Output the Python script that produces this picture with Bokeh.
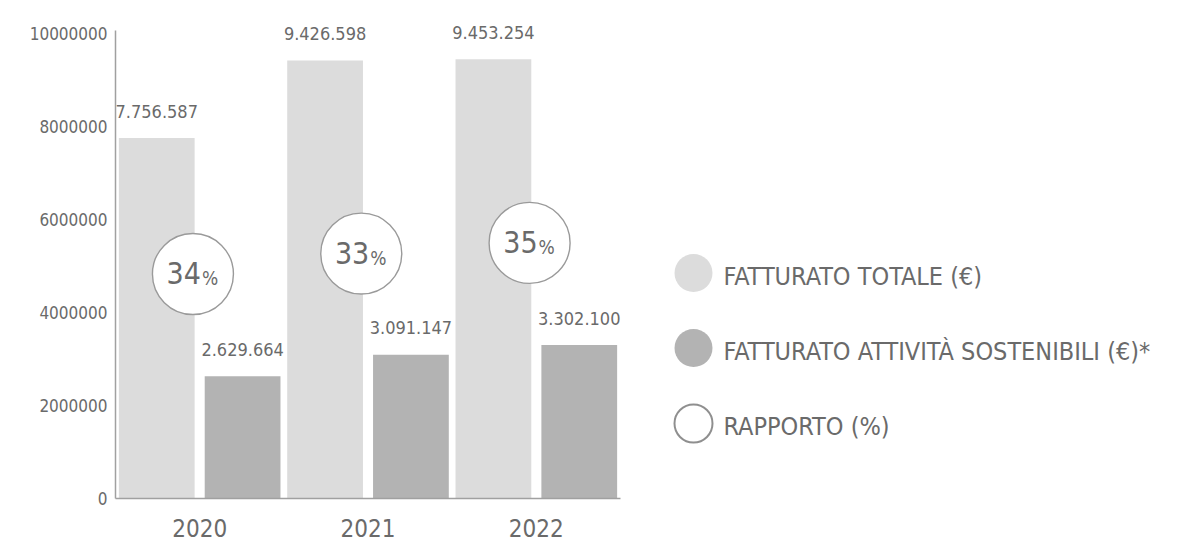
from bokeh.plotting import figure
from bokeh.layouts import row
from bokeh.models import ColumnDataSource, FactorRange, Range1d, FixedTicker, NumeralTickFormatter
from bokeh.transform import dodge
from bokeh.core.properties import value
from bokeh.embed import file_html
from bokeh.resources import INLINE

years = ["2020", "2021", "2022"]
totale = [7756587, 9426598, 9453254]
sostenibili = [2629664, 3091147, 3302100]
rapporto = [34, 33, 35]
rapporto_y = [4830000, 5270000, 5500000]   # vertical placement of ratio bubbles
y_ticks = [0, 2000000, 4000000, 6000000, 8000000, 10000000]

legend_labels = ["FATTURATO TOTALE (€)", "FATTURATO ATTIVITÀ SOSTENIBILI (€)*", "RAPPORTO (%)"]

LIGHT = "#dcdcdc"
DARK = "#b3b3b3"
TXT = "#6a6a6a"
AX = "#a0a0a0"
FONT = "DejaVu Sans Condensed, Roboto, sans-serif"

def fmt(v):
    return f"{v:,}".replace(",", ".")

src = ColumnDataSource(dict(
    year=years,
    tot=totale,
    sos=sostenibili,
    tot_lbl=[fmt(v) for v in totale],
    sos_lbl=[fmt(v) for v in sostenibili],
    rap=[str(v) for v in rapporto],
    pct=["%"] * len(years),
    rap_y=rapporto_y,
))

TOP, BOTTOM = 5, 46
H = 544
AXIS_TOP = 10070000
p = figure(x_range=FactorRange(*years, range_padding=0), y_range=Range1d(0, 10608000),
           width=650, height=H, output_backend="svg", toolbar_location=None,
           min_border_left=115, min_border_top=TOP, min_border_bottom=BOTTOM, min_border_right=30)
p.outline_line_color = None
p.xgrid.visible = False
p.ygrid.visible = False
p.background_fill_color = "white"
p.border_fill_color = "white"

p.vbar(x=dodge("year", -0.255, range=p.x_range), top="tot", width=0.45, source=src,
       fill_color=LIGHT, line_color=None)
p.vbar(x=dodge("year", 0.255, range=p.x_range), top="sos", width=0.45, source=src,
       fill_color=DARK, line_color=None)

p.text(x=dodge("year", -0.255, range=p.x_range), y="tot", text="tot_lbl", source=src,
       text_align="center", text_baseline="alphabetic", y_offset=-27,
       text_font=value(FONT), text_font_size="18px", text_color=TXT)
p.text(x=dodge("year", 0.255, range=p.x_range), y="sos", text="sos_lbl", source=src,
       text_align="center", text_baseline="alphabetic", y_offset=-27,
       text_font=value(FONT), text_font_size="18px", text_color=TXT)

p.scatter(x=dodge("year", -0.04, range=p.x_range), y="rap_y", source=src, marker="circle",
          size=81, fill_color="white", line_color="#9a9a9a", line_width=1.4)
p.text(x=dodge("year", -0.04, range=p.x_range), y="rap_y", text="rap", source=src,
       text_align="right", text_baseline="alphabetic", x_offset=8, y_offset=-1,
       text_font=value(FONT), text_font_size="30px", text_color=TXT)
p.text(x=dodge("year", -0.04, range=p.x_range), y="rap_y", text="pct", source=src,
       text_align="left", text_baseline="alphabetic", x_offset=9, y_offset=4,
       text_font=value(FONT), text_font_size="19px", text_color=TXT)

p.yaxis.ticker = FixedTicker(ticks=y_ticks)
p.yaxis.bounds = (0, AXIS_TOP)
p.yaxis.formatter = NumeralTickFormatter(format="0")
p.yaxis.major_tick_line_color = None
p.yaxis.minor_tick_line_color = None
p.yaxis.axis_line_color = AX
p.yaxis.axis_line_width = 1.5
p.yaxis.major_label_standoff = 2
p.yaxis.major_label_text_font = FONT
p.yaxis.major_label_text_font_size = "17px"
p.yaxis.major_label_text_color = TXT

p.xaxis.major_tick_line_color = None
p.xaxis.minor_tick_line_color = None
p.xaxis.axis_line_color = AX
p.xaxis.axis_line_width = 1.5
p.xaxis.major_label_standoff = 14
p.xaxis.major_label_text_font = FONT
p.xaxis.major_label_text_font_size = "24px"
p.xaxis.major_label_text_color = TXT

# legend panel (data units = screen pixels)
LW = 540
leg = figure(x_range=Range1d(0, LW), y_range=Range1d(H - BOTTOM, TOP), width=LW, height=H,
             output_backend="svg", toolbar_location=None,
             min_border_left=0, min_border_right=0, min_border_top=TOP, min_border_bottom=BOTTOM)
leg.axis.visible = False
leg.xgrid.visible = False
leg.ygrid.visible = False
leg.outline_line_color = None

leg_src = ColumnDataSource(dict(
    x=[43, 43, 43],
    y=[272.5, 347.5, 423],
    label=legend_labels,
    fill=[LIGHT, DARK, "white"],
    line=[LIGHT, DARK, "#8f8f8f"],
    lw=[0, 0, 2],
))
leg.scatter(x="x", y="y", source=leg_src, marker="circle", size=38,
            fill_color="fill", line_color="line", line_width="lw")
leg.text(x=dodge("x", 30), y="y", text="label", source=leg_src,
         text_align="left", text_baseline="middle", y_offset=3,
         text_font=value(FONT), text_font_size="25px", text_color=TXT)

layout = row(p, leg)
open("out.html", "w").write(file_html(layout, INLINE))
